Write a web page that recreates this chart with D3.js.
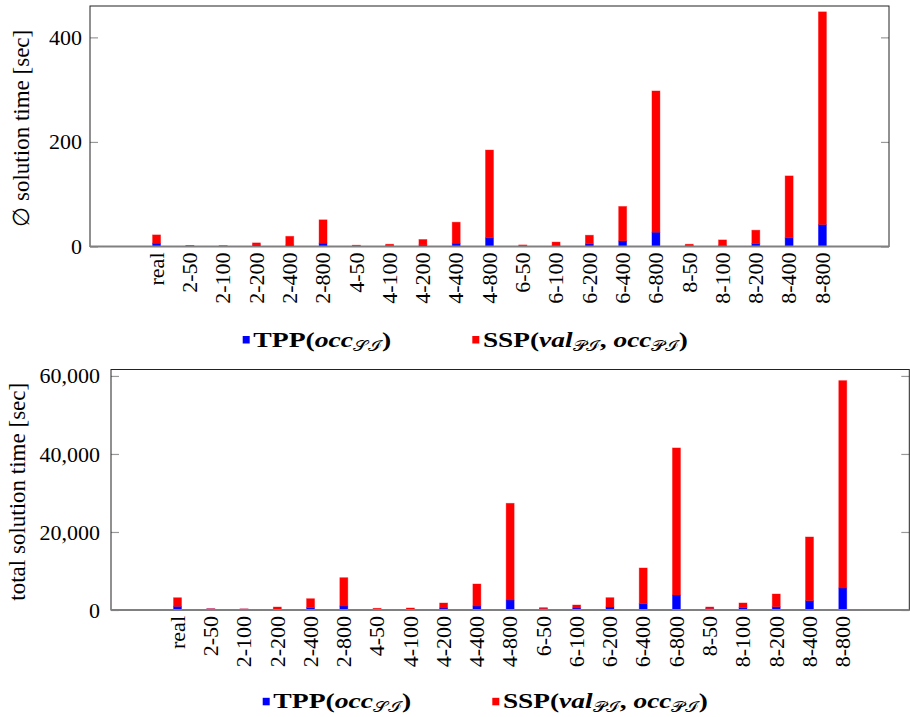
<!DOCTYPE html>
<html>
<head>
<meta charset="utf-8">
<script src="https://cdn.jsdelivr.net/npm/d3@7"></script>
<style>
  body { margin: 0; background: #fff; }
</style>
</head>
<body>
<script>
// categories (instance classes)
const categories = ["real", "2-50", "2-100", "2-200", "2-400", "2-800",
  "4-50", "4-100", "4-200", "4-400", "4-800",
  "6-50", "6-100", "6-200", "6-400", "6-800",
  "8-50", "8-100", "8-200", "8-400", "8-800"];

// average solution time [sec], stacked parts
const avgTPP = [6.3, 1.2, 1, 3, 2.9, 6.3, 1.5, 1.8, 3, 6.3, 16.5, 1.5, 2.5, 5, 10.7, 27.4, 2, 2.5, 5.7, 16.5, 42];
const avgSSP = [15.9, 0.8, 0.5, 3.9, 16.6, 44.7, 1, 2.6, 10.4, 40.2, 168, 1.5, 6, 16.6, 65.9, 270.1, 2.4, 10.1, 25.5, 118.5, 406.8];

// total solution time [sec], stacked parts
const totTPP = [950, 280, 230, 256, 600, 1026, 200, 256, 513, 1026, 2564, 350, 513, 770, 1620, 3850, 350, 600, 850, 2390, 5640];
const totSSP = [2200, 50, 50, 510, 2300, 7260, 230, 260, 1280, 5640, 24790, 250, 770, 2390, 9150, 37690, 420, 1200, 3250, 16330, 53160];

const avgTicks = [0, 200, 400];
const totTicks = [0, 20000, 40000, 60000];

const seriesKeys = ["tpp", "ssp"];
const seriesColors = ["#0000ff", "#ff0000"];

const FONT = "'Liberation Serif', serif";

let w = 910, h = 717;
let svg = d3.select("body").append("svg")
    .attr("width", w)
    .attr("height", h);

function drawChart(cfg) {
    let g = svg.append("g");

    // x positions of the bars
    let x = d3.scalePoint().domain(categories).range([cfg.left, cfg.right]).padding(2);
    let y = d3.scaleLinear().domain([0, cfg.ymax]).range([cfg.bottom, cfg.top]);

    let rows = categories.map((c, i) => ({ cat: c, tpp: cfg.tpp[i], ssp: cfg.ssp[i] }));
    let stacked = d3.stack().keys(seriesKeys)(rows);

    let barW = 8;
    g.selectAll("g.layer").data(stacked).enter().append("g")
        .attr("fill", (d, i) => seriesColors[i])
        .attr("stroke", (d, i) => seriesColors[i])
        .attr("stroke-opacity", 0.45)
        .attr("stroke-width", 0.8)
        .selectAll("rect").data(d => d).enter().append("rect")
        .attr("x", d => x(d.data.cat) - barW / 2)
        .attr("width", barW)
        .attr("y", d => y(d[1]))
        .attr("height", d => y(d[0]) - y(d[1]));

    // y axis left, ticks inward
    let axL = g.append("g").attr("transform", "translate(" + cfg.left + ",0)")
        .call(d3.axisLeft(y).tickValues(cfg.ticks).tickFormat(d3.format(",")).tickSize(-8).tickPadding(cfg.pad));
    axL.select(".domain").remove();
    axL.selectAll("line").attr("stroke", "#999").attr("stroke-width", 1.2);
    axL.selectAll("text").style("font-family", FONT).style("font-size", "22px").attr("fill", "#000");

    let axR = g.append("g").attr("transform", "translate(" + cfg.right + ",0)")
        .call(d3.axisRight(y).tickValues(cfg.ticks).tickFormat("").tickSize(-8));
    axR.select(".domain").remove();
    axR.selectAll("line").attr("stroke", "#999").attr("stroke-width", 1.2);

    // frame
    g.append("rect")
        .attr("x", cfg.left).attr("y", cfg.top)
        .attr("width", cfg.right - cfg.left).attr("height", cfg.bottom - cfg.top)
        .attr("fill", "none").attr("stroke", "#222").attr("stroke-width", 1);
    g.append("line")
        .attr("x1", cfg.left).attr("x2", cfg.right)
        .attr("y1", cfg.bottom).attr("y2", cfg.bottom)
        .attr("stroke", "#808080").attr("stroke-width", 2);

    // x labels, rotated
    g.selectAll("text.xl").data(categories).enter().append("text")
        .attr("class", "xl")
        .attr("transform", d => "translate(" + x(d) + "," + (cfg.bottom + 6) + ") rotate(-90)")
        .attr("text-anchor", "end")
        .attr("dy", "0.33em")
        .style("font-family", FONT)
        .style("font-size", "22px")
        .text(d => d);

    // y label
    g.append("text")
        .attr("transform", "translate(" + cfg.ylabX + "," + ((cfg.top + cfg.bottom) / 2 + 2) + ") rotate(-90)")
        .attr("text-anchor", "middle")
        .attr("dy", "0.33em")
        .style("font-family", FONT)
        .style("font-size", "23px")
        .text(cfg.ylabel);

    // legend
    let lx = cfg.legendX, ly = cfg.legendY;
    let items = [
        { dx: 0, len: 138, parts: [["TPP(", null], ["occ", "i"], ["𝒮ℐ", "s"], [")", null]] },
        { dx: 229.6, len: 205, parts: [["SSP(", null], ["val", "i"], ["𝒫ℐ", "s"], [", ", "b"], ["occ", "i"], ["𝒫ℐ", "s"], [")", null]] }
    ];
    items.forEach((it, i) => {
        g.append("rect")
            .attr("x", lx + it.dx).attr("y", ly - 10.5)
            .attr("width", 7).attr("height", 7.5)
            .attr("fill", seriesColors[i]);
        let t = g.append("text")
            .attr("x", lx + it.dx + 10.6).attr("y", ly)
            .attr("textLength", it.len).attr("lengthAdjust", "spacingAndGlyphs")
            .style("font-family", FONT)
            .style("font-size", "22px").style("font-weight", "bold");
        let sub = false;
        it.parts.forEach(p => {
            let s = t.append("tspan").text(p[0]);
            if (p[1] === "i") s.style("font-style", "italic");
            if (p[1] === "s") { s.style("font-size", "15px").style("font-weight", "normal").attr("dy", 4); sub = true; }
            else if (sub) { s.attr("dy", -4); sub = false; }
        });
    });
}

drawChart({
    left: 90, right: 889, top: 6, bottom: 246.5, ymax: 460,
    tpp: avgTPP, ssp: avgSSP, ticks: avgTicks, pad: 8,
    ylabel: "∅ solution time [sec]", ylabX: 21,
    legendX: 242.7, legendY: 346.5
});

drawChart({
    left: 111, right: 909.3, top: 369.5, bottom: 610, ymax: 61650,
    tpp: totTPP, ssp: totSSP, ticks: totTicks, pad: 11,
    ylabel: "total solution time [sec]", ylabX: 17,
    legendX: 262.7, legendY: 708.3
});
</script>
</body>
</html>
